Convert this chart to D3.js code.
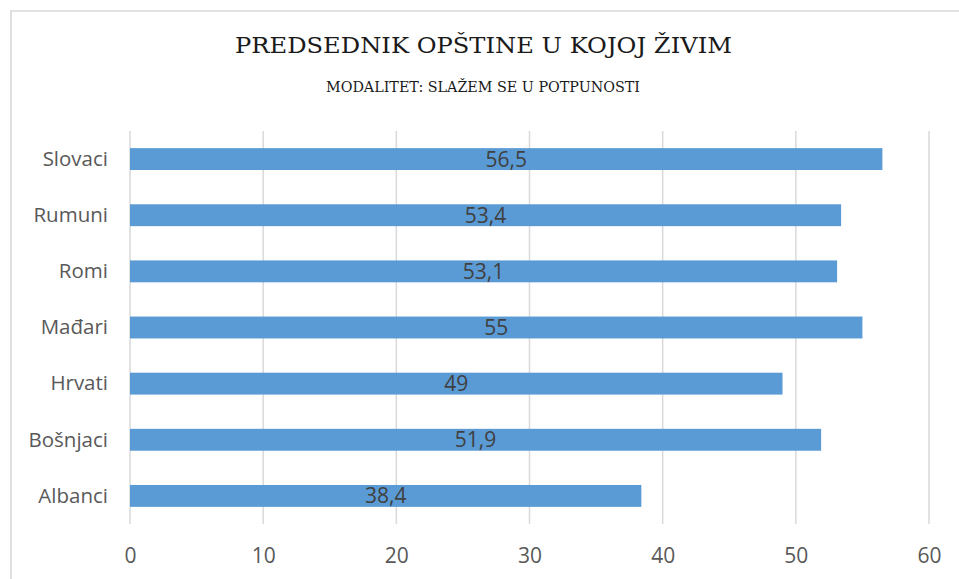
<!DOCTYPE html>
<html>
<head>
<meta charset="utf-8">
<script src="https://cdn.jsdelivr.net/npm/d3@7/dist/d3.min.js"></script>
<style>
html,body{margin:0;padding:0;background:#fff;}
svg{display:block;}
</style>
</head>
<body>
<svg id="chart" width="959" height="579"></svg>
<script>
const categories = ["Slovaci","Rumuni","Romi","Mađari","Hrvati","Bošnjaci","Albanci"];
const values = [56.5, 53.4, 53.1, 55, 49, 51.9, 38.4];
const valueLabels = ["56,5","53,4","53,1","55","49","51,9","38,4"];
const xTicks = [0,10,20,30,40,50,60];
const title = "PREDSEDNIK OPŠTINE U KOJOJ ŽIVIM";
const subtitle = "MODALITET: SLAŽEM SE U POTPUNOSTI";

const svg = d3.select("#chart");
const W = 959, H = 579;
const plot = {left:130, right:929, top:131, bottom:524};

// frame
svg.append("path")
  .attr("d", `M11,${H+2} L11,11 L${W+2},11`)
  .attr("fill","none").attr("stroke","#d9d9d9").attr("stroke-width",1.6);

// titles
svg.append("text").attr("x",483.5).attr("y",53.3)
  .attr("text-anchor","middle")
  .attr("font-family","'DejaVu Serif', 'Liberation Serif', serif")
  .attr("font-size",21.5).attr("fill","#1a1a1a")
  .attr("textLength",497).attr("lengthAdjust","spacingAndGlyphs")
  .text(title);
svg.append("text").attr("x",483).attr("y",91.7)
  .attr("text-anchor","middle")
  .attr("font-family","'DejaVu Serif', 'Liberation Serif', serif")
  .attr("font-size",14.5).attr("fill","#1a1a1a")
  .attr("textLength",314).attr("lengthAdjust","spacingAndGlyphs")
  .text(subtitle);

const x = d3.scaleLinear().domain([0,60]).range([plot.left, plot.right]);
const y = d3.scaleBand().domain(categories).range([plot.top, plot.bottom]).paddingInner(0.61).paddingOuter(0.305);

// gridlines
svg.append("g").selectAll("line").data(xTicks).join("line")
  .attr("x1",d=>x(d)).attr("x2",d=>x(d))
  .attr("y1",plot.top).attr("y2",plot.bottom)
  .attr("stroke","#d9d9d9").attr("stroke-width",1.5);

// bars
svg.append("g").selectAll("rect").data(values).join("rect")
  .attr("x",x(0))
  .attr("y",(d,i)=>y(categories[i]))
  .attr("width",d=>x(d)-x(0))
  .attr("height",y.bandwidth())
  .attr("fill","#5b9bd5");

// data labels
svg.append("g").selectAll("text").data(values).join("text")
  .attr("x",d=>(x(0)+x(d))/2)
  .attr("y",(d,i)=>y(categories[i])+y.bandwidth()/2+7.5)
  .attr("text-anchor","middle")
  .attr("font-family","'Open Sans', sans-serif")
  .attr("font-size",21).attr("fill","#404040")
  .text((d,i)=>valueLabels[i]);

// y axis labels
const yAxis = d3.axisLeft(y).tickSize(0).tickPadding(22);
const gy = svg.append("g").attr("transform",`translate(${plot.left},0)`).call(yAxis);
gy.select(".domain").remove();
gy.selectAll("text")
  .attr("font-family","'Open Sans', sans-serif")
  .attr("font-size",20.5).attr("fill","#595959")
  .attr("dy","0.33em");

// x axis labels
const xAxis = d3.axisBottom(x).tickValues(xTicks).tickSize(0).tickPadding(0).tickFormat(d3.format("d"));
const gx = svg.append("g").attr("transform",`translate(0,${plot.bottom})`).call(xAxis);
gx.select(".domain").remove();
gx.selectAll("text")
  .attr("font-family","'Open Sans', sans-serif")
  .attr("font-size",21).attr("fill","#595959")
  .attr("dy",null).attr("y",39.3);
</script>
</body>
</html>
